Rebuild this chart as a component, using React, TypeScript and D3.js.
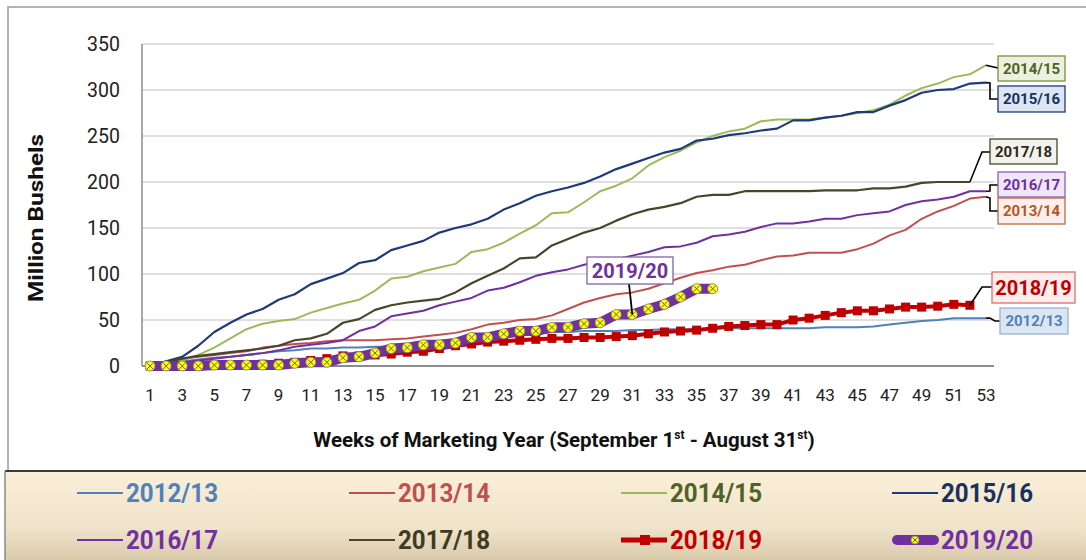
import * as d3 from 'd3';

const weeks = [
    1, 2, 3, 4, 5, 6, 7, 8, 9, 10, 11, 12, 13, 14, 15, 16, 17, 18, 19, 20, 21, 22, 23, 24, 25, 26, 27,
    28, 29, 30, 31, 32, 33, 34, 35, 36, 37, 38, 39, 40, 41, 42, 43, 44, 45, 46, 47, 48, 49, 50, 51, 52, 53,
];
const xTicks = weeks.filter((w) => w % 2 === 1);
const yTicks = [0, 50, 100, 150, 200, 250, 300, 350];

const my1213 = [
    0, 3, 5, 7, 9, 10, 12, 14, 16, 17, 19, 19, 20, 20, 21, 21, 22, 22, 23, 25, 27, 29, 31, 33, 35, 37, 37,
    38, 38, 38, 39, 39, 40, 40, 40, 41, 41, 41, 41, 41, 41, 41, 42, 42, 42, 43, 45, 47, 49, 50, 52, 52, 52,
];
const my1314 = [
    0, 5, 8, 10, 12, 14, 16, 20, 22, 24, 25, 27, 28, 28, 28, 29, 30, 32, 34, 36, 40, 45, 47, 50, 51, 55, 62,
    69, 74, 78, 80, 84, 90, 96, 101, 104, 108, 110, 115, 119, 120, 123, 123, 123, 127, 133, 142, 148, 160,
    168, 174, 182, 184,
];
const my1415 = [
    0, 3, 6, 12, 20, 30, 40, 46, 49, 51, 58, 63, 68, 72, 82, 95, 97, 103, 107, 111, 124, 127, 134, 144, 153,
    166, 167, 178, 190, 196, 204, 218, 227, 234, 243, 250, 255, 258, 266, 268, 268, 268, 270, 272, 275, 278,
    284, 294, 302, 307, 314, 317, 327,
];
const my1516 = [
    0, 5, 10, 22, 37, 47, 56, 62, 72, 78, 89, 95, 101, 112, 115, 126, 131, 136, 145, 150, 154, 160, 170, 177,
    185, 190, 194, 199, 206, 214, 220, 226, 232, 236, 245, 247, 251, 253, 256, 258, 267, 267, 270, 272, 276,
    276, 283, 289, 297, 300, 301, 307, 308,
];
const my1617 = [
    0, 2, 4, 6, 8, 10, 12, 14, 17, 21, 23, 25, 28, 38, 43, 54, 57, 60, 66, 70, 74, 82, 85, 91, 98, 102, 105,
    110, 114, 116, 120, 124, 129, 130, 134, 141, 143, 146, 151, 155, 155, 157, 160, 160, 164, 166, 168, 175,
    179, 181, 184, 190, 190,
];
const my1718 = [
    0, 4, 8, 11, 13, 15, 17, 19, 22, 28, 30, 35, 47, 51, 61, 66, 69, 71, 73, 80, 90, 98, 106, 117, 118, 131,
    138, 145, 150, 158, 165, 170, 173, 177, 184, 186, 186, 190, 190, 190, 190, 190, 191, 191, 191, 193, 193,
    195, 199, 200, 200, 200,
];
const my1819 = [
    0, 0, 0, 0, 1, 1, 1, 2, 3, 4, 6, 8, 11, 11, 12, 13, 15, 16, 19, 22, 24, 26, 27, 28, 29, 30, 30, 31, 31,
    32, 33, 35, 37, 38, 39, 41, 43, 44, 45, 45, 50, 52, 55, 58, 60, 60, 62, 64, 64, 65, 67, 66,
];
const my1920 = [
    0, 0, 0, 0, 1, 1, 1, 1, 1, 3, 4, 4, 9, 10, 14, 19, 20, 23, 23, 25, 31, 31, 35, 38, 38, 42, 42, 46, 47,
    56, 56, 62, 67, 75, 84, 84,
];

type Series = { name: string; values: number[]; color: string; text: string; width: number };

const series: Series[] = [
    { name: '2012/13', values: my1213, color: '#4F81BD', text: '#4F81BD', width: 2 },
    { name: '2013/14', values: my1314, color: '#C0504D', text: '#C0504D', width: 2 },
    { name: '2014/15', values: my1415, color: '#9BBB59', text: '#4F6228', width: 2 },
    { name: '2015/16', values: my1516, color: '#1F3A78', text: '#17325F', width: 2.2 },
    { name: '2016/17', values: my1617, color: '#7030A0', text: '#7030A0', width: 2 },
    { name: '2017/18', values: my1718, color: '#4A452A', text: '#3F3B22', width: 2.2 },
    { name: '2018/19', values: my1819, color: '#C00000', text: '#C00000', width: 4 },
    { name: '2019/20', values: my1920, color: '#7030A0', text: '#7030A0', width: 10 },
];

// data label boxes (pixel layout) with leader bends
const labels = [
    { name: '2014/15', x: 998, y: 56, w: 67, h: 25, fs: 15, fill: '#EBF1DE', stroke: '#77933C', bends: [[998, 68]] },
    { name: '2015/16', x: 998, y: 86, w: 67, h: 26, fs: 15, fill: '#DCE6F2', stroke: '#1F3A78', bends: [[990, 83], [990, 99], [998, 99]] },
    { name: '2017/18', x: 990, y: 139, w: 67, h: 25, fs: 15, fill: '#F2F2EC', stroke: '#4A452A', bends: [[982, 152], [990, 152]] },
    { name: '2016/17', x: 998, y: 172, w: 67, h: 25, fs: 15, fill: '#EFE6F6', stroke: '#8E5CC0', bends: [[990, 191], [990, 185], [998, 185]] },
    { name: '2013/14', x: 998, y: 198, w: 67, h: 26, fs: 15, fill: '#FDEEEE', stroke: '#B86E3A', bends: [[990, 198], [990, 211], [998, 211]] },
    { name: '2018/19', x: 992, y: 272, w: 83, h: 31, fs: 20, fill: '#FDEDED', stroke: '#D9706E', bends: [[982, 287], [992, 287]] },
    { name: '2012/13', x: 1000, y: 308, w: 68, h: 26, fs: 15, fill: '#DCE6F2', stroke: '#95B3D7', bends: [[990, 318], [995, 321], [1000, 321]] },
];

const labelTextColor: Record<string, string> = {
    '2014/15': '#4F6228',
    '2015/16': '#17325F',
    '2017/18': '#2B2A1A',
    '2016/17': '#7030A0',
    '2013/14': '#B05A1E',
    '2018/19': '#C00000',
    '2012/13': '#4F81BD',
};

const font = "Roboto, 'Open Sans', sans-serif";

function YellowMarker({ cx, cy, r = 5 }: { cx: number; cy: number; r?: number }) {
    const d = r * 0.6;
    return (
        <g>
            <circle cx={cx} cy={cy} r={r} fill="#FFFF00" stroke="#8a8a60" strokeWidth={0.8} />
            <path
                d={`M${cx - d},${cy - d}L${cx + d},${cy + d}M${cx + d},${cy - d}L${cx - d},${cy + d}`}
                stroke="#555" strokeWidth={0.9}
            />
        </g>
    );
}

export default function App() {
    const x = d3.scalePoint<number>().domain(weeks).range([142, 994]).padding(0.5);
    const y = d3.scaleLinear().domain([0, 350]).range([366, 44]);

    const line = (vals: number[]) =>
        d3
            .line<number>()
            .x((_, i) => x(weeks[i])!)
            .y((v) => y(v))(vals) ?? '';

    const last = (s: Series) => [x(weeks[s.values.length - 1])!, y(s.values[s.values.length - 1])];

    const legendCols = [77, 349, 621, 892];
    const legendRows = [493, 540];

    const s1920 = series[7];
    const pt1920: [number, number] = [x(31)!, y(s1920.values[30])];

    return (
        <svg width={1086} height={560} style={{ position: 'absolute', left: 0, top: 0, background: '#fff' }}>
            <defs>
                <linearGradient id="legbg" x1="0" y1="0" x2="0" y2="1">
                    <stop offset="0" stopColor="#FCEFD8" />
                    <stop offset="0.6" stopColor="#EFE3CA" />
                    <stop offset="1" stopColor="#D6C6A6" />
                </linearGradient>
            </defs>

            {/* chart frame */}
            <rect x={8} y={7} width={1090} height={470} fill="#fff" stroke="#9a9a9a" strokeWidth={1.5} />
            <rect x={5} y={471} width={1090} height={95} fill="url(#legbg)" />
            <line x1={5} x2={1086} y1={471} y2={471} stroke="#3a3a3a" strokeWidth={2} />
            <line x1={5} x2={5} y1={471} y2={560} stroke="#8a8a8a" strokeWidth={1.5} />

            {/* grid */}
            {yTicks.slice(1).map((t) => (
                <line key={t} x1={142} x2={994} y1={y(t)} y2={y(t)} stroke="#D4D4D4" strokeWidth={1.3} />
            ))}
            <line x1={142} x2={142} y1={44} y2={366} stroke="#8C8C8C" strokeWidth={1.5} />
            <line x1={142} x2={994} y1={366} y2={366} stroke="#8C8C8C" strokeWidth={2} />

            {/* y axis */}
            {yTicks.map((t) => (
                <text key={t} x={120} y={y(t)} dy="0.35em" textAnchor="end" fontFamily={font} fontSize={19.5} fill="#222">
                    {t}
                </text>
            ))}
            <text
                transform="translate(43,218) rotate(-90)"
                textAnchor="middle"
                fontFamily={font}
                fontWeight="bold"
                fontSize={21}
                textLength={168}
                lengthAdjust="spacingAndGlyphs"
                fill="#111"
            >
                Million Bushels
            </text>

            {/* x axis */}
            {xTicks.map((w) => (
                <text key={w} x={x(w)} y={401} textAnchor="middle" fontFamily={font} fontSize={17} fill="#222">
                    {w}
                </text>
            ))}
            <text x={564} y={447} textAnchor="middle" fontFamily={font} fontWeight="bold" fontSize={20.5} fill="#111">
                Weeks of Marketing Year (September 1
                <tspan fontSize={12} dy={-8}>st</tspan>
                <tspan dy={8}> - August 31</tspan>
                <tspan fontSize={12} dy={-8}>st</tspan>
                <tspan dy={8}>)</tspan>
            </text>

            {/* thin series */}
            {series.slice(0, 6).map((s) => (
                <path key={s.name} d={line(s.values)} fill="none" stroke={s.color} strokeWidth={s.width} strokeLinejoin="round" />
            ))}

            {/* 2018/19 */}
            <path d={line(series[6].values)} fill="none" stroke="#C00000" strokeWidth={4} />
            {series[6].values.map((v, i) => (
                <rect key={i} x={x(weeks[i])! - 4.5} y={y(v) - 4.5} width={9} height={9} fill="#C00000" />
            ))}

            {/* 2019/20 */}
            <path d={line(s1920.values)} fill="none" stroke="#7030A0" strokeWidth={10} strokeLinecap="round" strokeLinejoin="round" />
            {s1920.values.map((v, i) => (
                <YellowMarker key={i} cx={x(weeks[i])!} cy={y(v)} />
            ))}

            {/* data labels */}
            {labels.map((l) => {
                const s = series.find((d) => d.name === l.name)!;
                const p = last(s);
                const pts = [p, ...l.bends];
                return (
                    <g key={l.name}>
                        <path d={d3.line()(pts as [number, number][]) ?? ''} fill="none" stroke="#000" strokeWidth={1.6} />
                        <rect x={l.x} y={l.y} width={l.w} height={l.h} fill={l.fill} stroke={l.stroke} strokeWidth={1.3} />
                        <text
                            x={l.x + l.w / 2}
                            y={l.y + l.h / 2}
                            dy="0.36em"
                            textAnchor="middle"
                            fontFamily={font}
                            fontWeight="bold"
                            fontSize={l.fs}
                            fill={labelTextColor[l.name]}
                        >
                            {l.name}
                        </text>
                    </g>
                );
            })}
            <g>
                <path d={`M629,284L${pt1920[0]},${pt1920[1]}`} stroke="#000" strokeWidth={1.8} />
                <rect x={587} y={257} width={86} height={27} fill="#fff" stroke="#8064A2" strokeWidth={1.3} />
                <text x={630} y={270.5} dy="0.36em" textAnchor="middle" fontFamily={font} fontWeight="bold" fontSize={20} fill="#7030A0">
                    2019/20
                </text>
            </g>

            {/* legend */}
            {series.map((s, i) => {
                const lx = legendCols[i % 4];
                const ly = legendRows[Math.floor(i / 4)];
                return (
                    <g key={s.name}>
                        {i < 6 && <line x1={lx} x2={lx + 46} y1={ly} y2={ly} stroke={s.color} strokeWidth={2.2} />}
                        {i === 6 && (
                            <g>
                                <line x1={lx} x2={lx + 46} y1={ly} y2={ly} stroke="#C00000" strokeWidth={5} />
                                <rect x={lx + 19} y={ly - 5} width={10} height={10} fill="#C00000" />
                            </g>
                        )}
                        {i === 7 && (
                            <g>
                                <line x1={lx + 5} x2={lx + 42} y1={ly} y2={ly} stroke="#7030A0" strokeWidth={10} strokeLinecap="round" />
                                <YellowMarker cx={lx + 23} cy={ly} r={4} />
                            </g>
                        )}
                        <text
                            x={lx + 49}
                            y={ly}
                            dy="0.36em"
                            fontFamily={font}
                            fontWeight="bold"
                            fontSize={25}
                            textLength={92}
                            lengthAdjust="spacingAndGlyphs"
                            fill={s.text}
                        >
                            {s.name}
                        </text>
                    </g>
                );
            })}
        </svg>
    );
}
